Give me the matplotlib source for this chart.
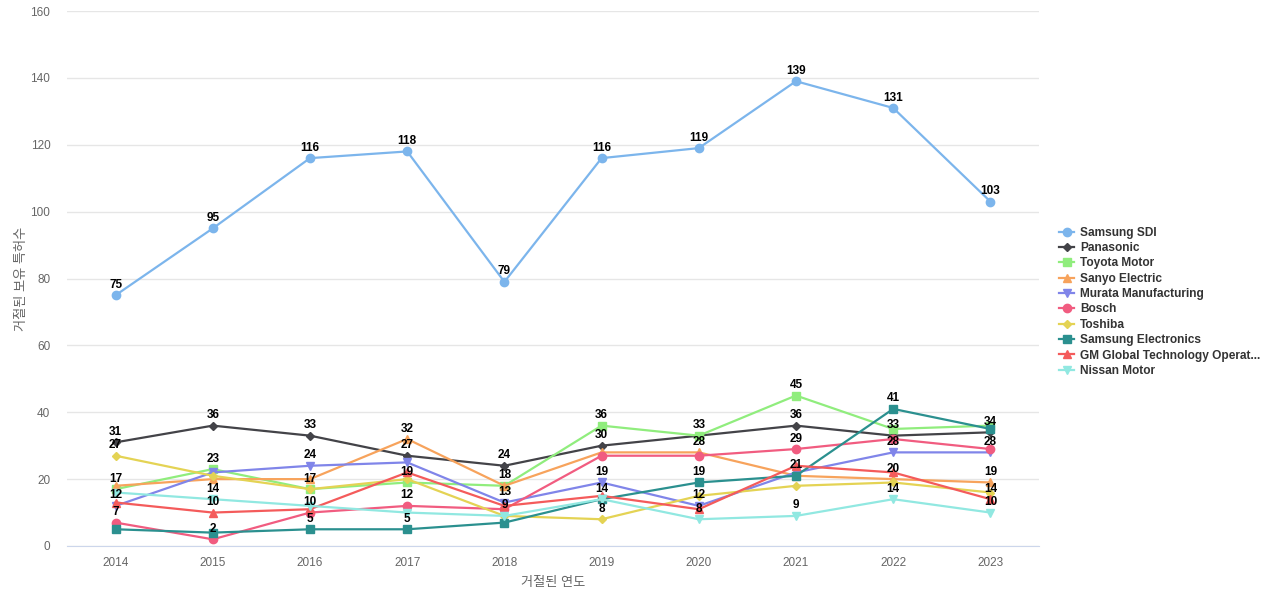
import numpy as np
import matplotlib
matplotlib.use("Agg")
import matplotlib.pyplot as plt

plt.rcParams['font.family'] = ['Liberation Sans', 'Noto Sans CJK KR', 'DejaVu Sans']

years = [2014, 2015, 2016, 2017, 2018, 2019, 2020, 2021, 2022, 2023]

names = ["Samsung SDI", "Panasonic", "Toyota Motor", "Sanyo Electric",
         "Murata Manufacturing", "Bosch", "Toshiba", "Samsung Electronics",
         "GM Global Technology Operat...", "Nissan Motor"]

samsung_sdi = [75, 95, 116, 118, 79, 116, 119, 139, 131, 103]
panasonic = [31, 36, 33, 27, 24, 30, 33, 36, 33, 34]
toyota = [17, 23, 17, 19, 18, 36, 33, 45, 35, 36]
sanyo = [18, 20, 20, 32, 18, 28, 28, 21, 20, 19]
murata = [12, 22, 24, 25, 13, 19, 12, 22, 28, 28]
bosch = [7, 2, 10, 12, 11, 27, 27, 29, 32, 29]
toshiba = [27, 21, 17, 20, 9, 8, 15, 18, 19, 16]
samsung_el = [5, 4, 5, 5, 7, 14, 19, 21, 41, 35]
gm = [13, 10, 11, 22, 12, 15, 11, 24, 22, 14]
nissan = [16, 14, 12, 10, 9, 14, 8, 9, 14, 10]

series = [samsung_sdi, panasonic, toyota, sanyo, murata, bosch, toshiba,
          samsung_el, gm, nissan]

colors = ["#7cb5ec", "#434348", "#90ed7d", "#f7a35c", "#8085e9",
          "#f15c80", "#e4d354", "#2b908f", "#f45b5b", "#91e8e1"]
markers = ["o", "D", "s", "^", "v", "o", "D", "s", "^", "v"]
msizes = [6, 4, 6, 6, 6, 6, 4, 6, 6, 6]

fig = plt.figure(figsize=(12.8, 6), dpi=100)
ax = fig.add_axes([67/1280, 1 - 546/600, (1039 - 67)/1280, (546 - 11)/600])

x = np.arange(len(years))
for vals, name, c, m, ms in zip(series, names, colors, markers, msizes):
    ax.plot(x, vals, color=c, marker=m, markersize=ms, linewidth=1.6,
            label=name, zorder=3)

# data labels, skipping ones that would overlap (like the original chart)
fig.canvas.draw()
placed = []
for vals in series:
    for i, v in enumerate(vals):
        px, py = ax.transData.transform((i, v))
        py += 10
        if any(abs(px - qx) < 14 and abs(py - qy) < 11 for qx, qy in placed):
            continue
        placed.append((px, py))
        ax.annotate(str(v), (i, v), xytext=(0, 7.5), textcoords="offset points",
                    ha="center", va="center", fontsize=8.5, fontweight="bold",
                    color="black", zorder=5)

ax.set_xlim(-0.5, len(years) - 0.5)
ax.set_ylim(0, 160)
ax.set_xticks(x)
ax.set_xticklabels([str(y) for y in years])
ax.set_yticks(range(0, 161, 20))
ax.tick_params(axis="both", length=0, labelsize=8.5, colors="#666666")
ax.tick_params(axis="x", pad=8)
ax.tick_params(axis="y", pad=12)
ax.grid(axis="y", color="#e6e6e6", linewidth=1)
ax.set_axisbelow(True)
for s in ["top", "right", "left"]:
    ax.spines[s].set_visible(False)
ax.spines["bottom"].set_color("#ccd6eb")

ax.set_xlabel("거절된 연도", fontsize=9.5, color="#666666", labelpad=6)
ax.set_ylabel("거절된 보유 특허수", fontsize=9.5, color="#666666", labelpad=2)

leg = fig.legend(loc="upper left", bbox_to_anchor=(1054/1280, 1 - 222/600),
                 frameon=False, fontsize=8.6, handlelength=1.3,
                 labelspacing=0.28, handletextpad=0.5, borderaxespad=0)
for t in leg.get_texts():
    t.set_fontweight("bold")
    t.set_color("#333333")

fig.savefig("out.png", dpi=100)
